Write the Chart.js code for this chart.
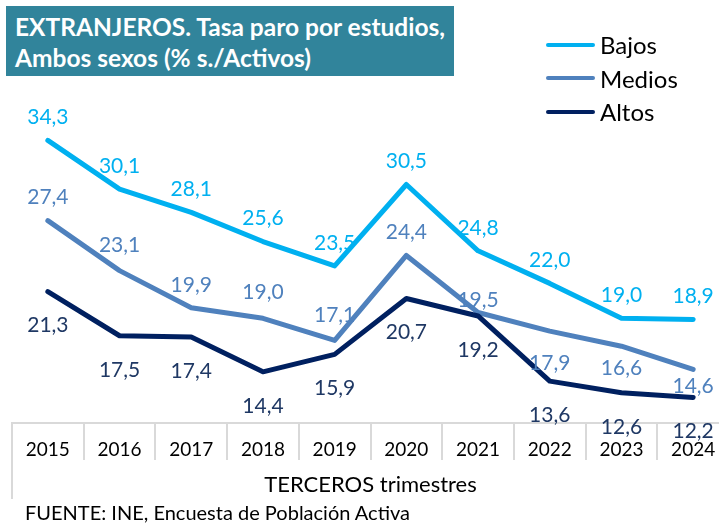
<!DOCTYPE html>
<html>
<head>
<meta charset="utf-8">
<script src="https://cdn.jsdelivr.net/npm/chart.js@4.4.1/dist/chart.umd.min.js"></script>
<style>
  body { margin: 0; background: #fff; font-family: Lato, "Open Sans", sans-serif; }
  .wrap { position: relative; width: 719px; height: 524px; overflow: hidden; }
  canvas { position: absolute; left: 0; top: 0; }
  .title {
    position: absolute; left: 6px; top: 6px; width: 448px; height: 70px;
    background: #31849b; color: #fff; font-weight: bold; font-size: 24.5px;
    line-height: 31px; padding: 5px 0 0 9px; box-sizing: border-box; white-space: nowrap;
  }
  .legend { position: absolute; left: 546px; top: 28px; }
  .legend div { height: 33.5px; display: flex; align-items: center; font-size: 24px; color: #000; }
  .legend span { display: inline-block; width: 49px; height: 4px; border-radius: 2px; margin-right: 5px; }
  .footer { position: absolute; left: 25px; top: 500px; font-size: 20px; color: #000; }
</style>
</head>
<body>
<div class="wrap">
  <canvas id="myChart" width="740" height="524"></canvas>
  <div class="title">EXTRANJEROS. Tasa paro por estudios,<br>Ambos sexos (% s./Activos)</div>
  <div class="legend">
    <div><span style="background:#00b0f0"></span>Bajos</div>
    <div><span style="background:#4f81bd"></span>Medios</div>
    <div><span style="background:#002060"></span>Altos</div>
  </div>
  <div class="footer">FUENTE: INE, Encuesta de Población Activa</div>
</div>
<script>
var years = ["2015", "2016", "2017", "2018", "2019", "2020", "2021", "2022", "2023", "2024"];
var bajos = [34.3, 30.1, 28.1, 25.6, 23.5, 30.5, 24.8, 22.0, 19.0, 18.9];
var medios = [27.4, 23.1, 19.9, 19.0, 17.1, 24.4, 19.5, 17.9, 16.6, 14.6];
var altos = [21.3, 17.5, 17.4, 14.4, 15.9, 20.7, 19.2, 13.6, 12.6, 12.2];

// value labels next to each point
var pointLabels = {
  id: "pointLabels",
  afterDatasetsDraw: function (chart) {
    var ctx = chart.ctx;
    ctx.save();
    ctx.font = "21px Lato";
    ctx.textAlign = "center";
    ctx.textBaseline = "middle";
    chart.data.datasets.forEach(function (ds, i) {
      var meta = chart.getDatasetMeta(i);
      ctx.fillStyle = ds.labelColor;
      meta.data.forEach(function (pt, j) {
        var dy = Array.isArray(ds.labelDy) ? ds.labelDy[j] : ds.labelDy;
        ctx.fillText(ds.data[j].toFixed(1).replace(".", ","), pt.x, pt.y + dy);
      });
    });
    ctx.restore();
  },
  afterDraw: function (chart) {
    var ctx = chart.ctx;
    var area = chart.chartArea;
    ctx.save();
    ctx.strokeStyle = "#d9d9d9";
    ctx.lineWidth = 2;
    ctx.beginPath();
    ctx.moveTo(area.left, area.bottom);
    ctx.lineTo(area.left, area.bottom + 76);
    ctx.stroke();
    ctx.fillStyle = "#000";
    ctx.font = "22px Lato";
    ctx.textAlign = "center";
    ctx.textBaseline = "middle";
    ctx.fillText("TERCEROS trimestres", (area.left + area.right) / 2, area.bottom + 62);
    ctx.restore();
  }
};

var chart = document.getElementById("myChart").getContext("2d");
var myChart = new Chart(chart, {
  type: "line",
  data: {
    labels: years,
    datasets: [
      {
        label: "Bajos",
        data: bajos,
        borderColor: "#00b0f0",
        labelColor: "#00b0f0",
        labelDy: -23,
        order: 2
      },
      {
        label: "Medios",
        data: medios,
        borderColor: "#4f81bd",
        labelColor: "#4f81bd",
        labelDy: [-23, -25, -23, -26, -25, -23, -12, 32, 22, 17],
        order: 1
      },
      {
        label: "Altos",
        data: altos,
        borderColor: "#002060",
        labelColor: "#1f3864",
        labelDy: 34,
        order: 0
      }
    ]
  },
  options: {
    responsive: false,
    animation: false,
    devicePixelRatio: 1,
    layout: { padding: { left: 12, right: 11, top: 74, bottom: 0 } },
    elements: {
      line: { borderWidth: 5, tension: 0, borderCapStyle: "round", borderJoinStyle: "round" },
      point: { radius: 0 }
    },
    plugins: { legend: { display: false }, tooltip: { enabled: false } },
    scales: {
      x: {
        offset: true,
        afterFit: function (s) { s.height = 101; },
        grid: { offset: true, drawOnChartArea: false, tickLength: 37, color: "#d9d9d9", lineWidth: 2 },
        border: { color: "#d9d9d9", width: 2 },
        ticks: { color: "#000", font: { family: "Lato", size: 19 }, padding: -22, maxRotation: 0, autoSkip: false }
      },
      y: { display: false, min: 10, max: 40 }
    }
  },
  plugins: [pointLabels]
});
</script>
</body>
</html>
